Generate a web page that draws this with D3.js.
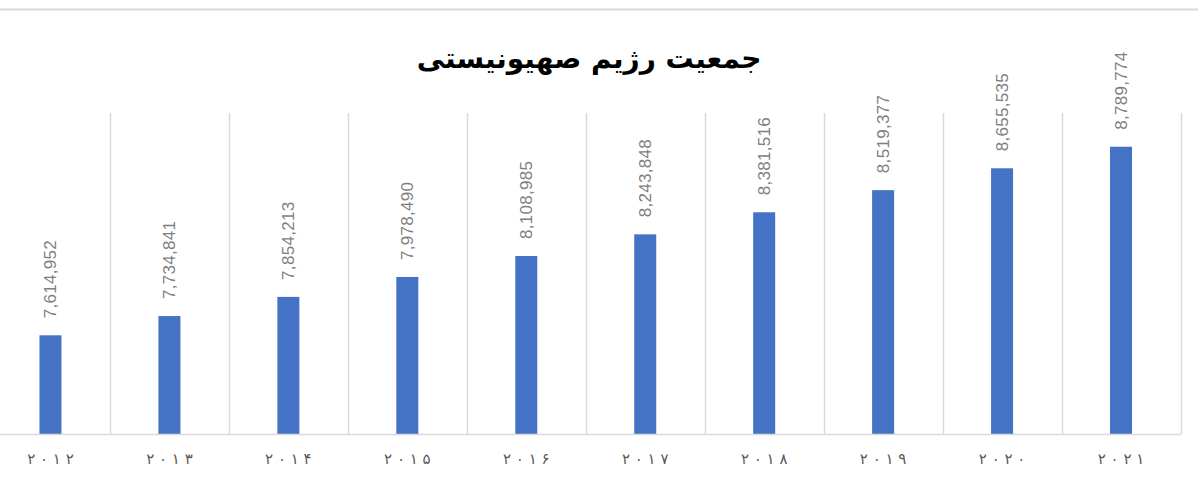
<!DOCTYPE html>
<html>
<head>
<meta charset="utf-8">
<script src="https://cdn.jsdelivr.net/npm/d3@7"></script>
<style>
  body { margin: 0; background: #fff; }
  svg { display: block; }
</style>
</head>
<body>
<script>
var width = 1198, height = 485;

// data
var years = ["۲۰۱۲", "۲۰۱۳", "۲۰۱۴", "۲۰۱۵", "۲۰۱۶", "۲۰۱۷", "۲۰۱۸", "۲۰۱۹", "۲۰۲۰", "۲۰۲۱"];
var population = [7614952, 7734841, 7854213, 7978490, 8108985, 8243848, 8381516, 8519377, 8655535, 8789774];
var title = "جمعیت رژیم صهیونیستی";

var svg = d3.select("body").append("svg")
    .attr("width", width)
    .attr("height", height);

// top border line
svg.append("line")
    .attr("x1", 0).attr("x2", width)
    .attr("y1", 9.5).attr("y2", 9.5)
    .attr("stroke", "#d9d9d9")
    .attr("stroke-width", 2);

// scales
var xScale = d3.scaleBand()
    .domain(d3.range(years.length))
    .range([-9, 1180.5])
    .paddingInner(0.815)
    .paddingOuter(0.4075);

var bandX = d3.scaleBand()
    .domain(d3.range(years.length))
    .range([-9, 1180.5]);

var yScale = d3.scaleLinear()
    .domain([7000000, 9000000])
    .range([434, 113]);

// vertical gridlines at category boundaries
svg.append("g")
    .attr("class", "grid")
  .selectAll("line")
  .data(d3.range(years.length + 1))
  .enter().append("line")
    .attr("x1", function(i) { return Math.round(-9 + i * bandX.step()) + 0.5; })
    .attr("x2", function(i) { return Math.round(-9 + i * bandX.step()) + 0.5; })
    .attr("y1", yScale(9000000))
    .attr("y2", yScale(7000000))
    .attr("stroke", "#d9d9d9")
    .attr("stroke-width", 1.5);

// bars
svg.append("g")
  .selectAll("rect")
  .data(population)
  .enter().append("rect")
    .attr("x", function(d, i) { return xScale(i); })
    .attr("width", xScale.bandwidth())
    .attr("y", function(d) { return yScale(d); })
    .attr("height", function(d) { return yScale(7000000) - yScale(d); })
    .attr("fill", "#4472c4");

// baseline
svg.append("line")
    .attr("x1", -9).attr("x2", 1181)
    .attr("y1", yScale(7000000) + 0.5).attr("y2", yScale(7000000) + 0.5)
    .attr("stroke", "#d9d9d9")
    .attr("stroke-width", 1.5);

// data labels
svg.append("g")
  .selectAll("text")
  .data(population)
  .enter().append("text")
    .attr("transform", function(d, i) {
      var x = xScale(i) + xScale.bandwidth() / 2 + 6;
      var y = yScale(d) - 17;
      return "translate(" + x + "," + y + ") rotate(-90)";
    })
    .attr("text-anchor", "start")
    .attr("font-family", "Liberation Sans, Arial, sans-serif")
    .attr("font-size", 17)
    .attr("letter-spacing", 0.3)
    .attr("fill", "#7f7f7f")
    .text(function(d) { return d3.format(",")(d); });

// x axis labels
var xAxis = d3.axisBottom(xScale)
    .tickSize(0)
    .tickFormat(function(d, i) { return years[i].split("").join(" "); });

var gx = svg.append("g")
    .attr("transform", "translate(0," + (yScale(7000000)) + ")")
    .call(xAxis);
gx.select(".domain").remove();
gx.selectAll("text")
    .attr("y", 19)
    .attr("font-family", "DejaVu Sans, sans-serif")
    .attr("font-size", 15)
    .attr("direction", "ltr")
    .attr("unicode-bidi", "bidi-override")
    .style("white-space", "pre")
    .attr("fill", "#595959");

// title
svg.append("text")
    .attr("x", 589)
    .attr("y", 68)
    .attr("text-anchor", "middle")
    .attr("font-family", "DejaVu Sans, sans-serif")
    .attr("font-weight", "bold")
    .attr("font-size", 28)
    .attr("fill", "#000")
    .text(title);
</script>
</body>
</html>
